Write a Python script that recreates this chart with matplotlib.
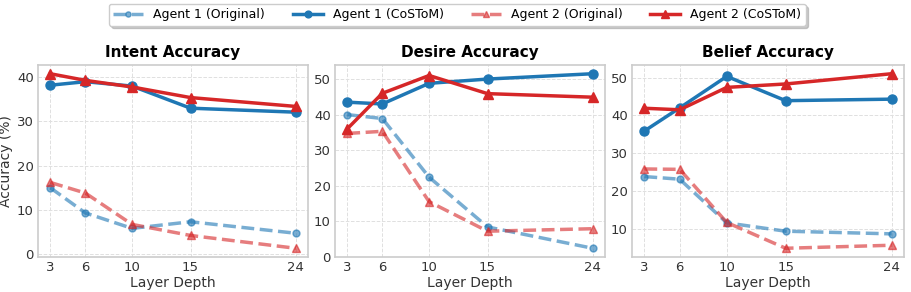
import matplotlib
matplotlib.use("Agg")
import matplotlib.pyplot as plt

layers = [3, 6, 10, 15, 24]
titles = ["Intent Accuracy", "Desire Accuracy", "Belief Accuracy"]

intent_a1_orig = [15.0, 9.3, 5.8, 7.3, 4.7]
intent_a1_costom = [38.2, 39.0, 38.0, 33.0, 32.1]
intent_a2_orig = [16.2, 13.8, 6.7, 4.2, 1.3]
intent_a2_costom = [40.8, 39.3, 37.8, 35.4, 33.4]

desire_a1_orig = [40.0, 38.9, 22.4, 8.4, 2.4]
desire_a1_costom = [43.5, 43.0, 48.8, 50.0, 51.5]
desire_a2_orig = [34.7, 35.3, 15.5, 7.2, 7.9]
desire_a2_costom = [36.0, 46.0, 51.0, 45.9, 44.9]

belief_a1_orig = [23.9, 23.2, 11.7, 9.5, 8.8]
belief_a1_costom = [35.9, 42.0, 50.3, 43.9, 44.3]
belief_a2_orig = [25.9, 25.8, 11.8, 5.0, 5.8]
belief_a2_costom = [41.9, 41.5, 47.4, 48.3, 51.0]

data = [
    (intent_a1_orig, intent_a1_costom, intent_a2_orig, intent_a2_costom),
    (desire_a1_orig, desire_a1_costom, desire_a2_orig, desire_a2_costom),
    (belief_a1_orig, belief_a1_costom, belief_a2_orig, belief_a2_costom),
]

blue = "#1f77b4"
red = "#d62728"

fig = plt.figure(figsize=(9.11, 2.92), dpi=100)
W, H = 911, 292
lefts = [38, 335, 632]
rights = [308, 605, 904]
top, bottom = 65, 257

handles = None
for i, (a1o, a1c, a2o, a2c) in enumerate(data):
    ax = fig.add_axes([lefts[i] / W, 1 - bottom / H, (rights[i] - lefts[i]) / W, (bottom - top) / H])
    h1, = ax.plot(layers, a1o, linestyle="--", color=blue, alpha=0.6, lw=2.5, marker="o", markersize=5, label="Agent 1 (Original)")
    h2, = ax.plot(layers, a1c, linestyle="-", color=blue, lw=2.5, marker="o", markersize=6.5, label="Agent 1 (CoSToM)")
    h3, = ax.plot(layers, a2o, linestyle="--", color=red, alpha=0.6, lw=2.5, marker="^", markersize=5.5, label="Agent 2 (Original)")
    h4, = ax.plot(layers, a2c, linestyle="-", color=red, lw=2.5, marker="^", markersize=7, label="Agent 2 (CoSToM)")
    handles = [h1, h2, h3, h4]
    ax.set_xticks(layers)
    ax.set_title(titles[i], fontsize=11, fontweight="bold", pad=6)
    ax.set_xlabel("Layer Depth", fontsize=10, labelpad=1, color="#333333")
    if i == 0:
        ax.set_ylabel("Accuracy (%)", fontsize=10, color="#333333", labelpad=3)
    ax.grid(True, linestyle="--", color="#e0e0e0", lw=0.7)
    ax.set_axisbelow(True)
    for s in ax.spines.values():
        s.set_color("#cccccc")
        s.set_linewidth(1.2)
    ax.tick_params(axis="both", labelsize=9.5, colors="#333333", length=0, pad=3)

leg = fig.legend(handles, [h.get_label() for h in handles], loc="upper center", ncol=4,
                 bbox_to_anchor=(0.502, 0.995), fontsize=9, frameon=True,
                 shadow={"color": "#999999", "alpha": 0.5},
                 fancybox=True, handlelength=2.4, columnspacing=2.2, borderaxespad=0.2,
                 markerscale=0.75, borderpad=0.35)
leg.get_frame().set_edgecolor("#cccccc")

fig.savefig("out.png", dpi=100)
